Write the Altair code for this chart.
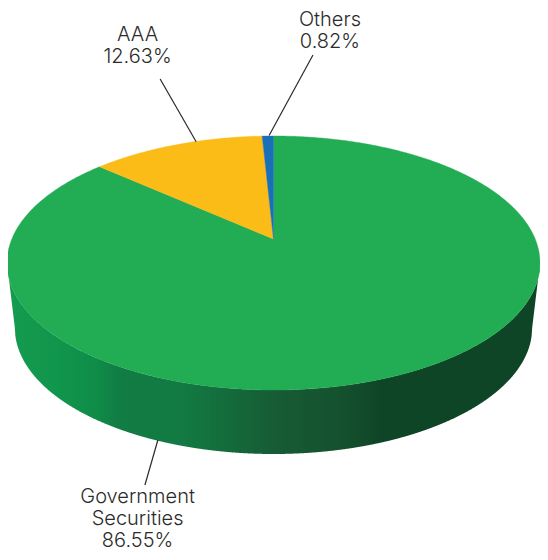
import math
import altair as alt
import pandas as pd

# ---- chart values ----
names = ["Government Securities", "AAA", "Others"]
shares = [86.55, 12.63, 0.82]
slice_colors = ["#22ac53", "#fbbc17", "#1a70b7"]
label_lines = [["Government", "Securities", "86.55%"], ["AAA", "12.63%"], ["Others", "0.82%"]]
label_x = [138, 138, 334]
label_y = [497, 35, 20]
leader_from = [(158.7, 440), (197.7, 141.7), (272, 135.5)]
leader_to = [(145.5, 485), (161, 79), (316.7, 55)]
wall_stops = [(0.0, "#169c50"), (0.1, "#10954c"), (0.17, "#0f8c48"), (0.21, "#117c43"),
              (0.33, "#127a42"), (0.5, "#165c35"), (0.62, "#15522f"), (0.7, "#0f4527"),
              (1.0, "#0e4526")]

# ---- perspective geometry of the disc (pixel frame of the page) ----
APEX_X, APEX_Y = 276.5, 239
K, C, A = 0.189, 122.5, 266.6
TOP_CY, TOP_RX, TOP_RY = 263, 271.5, 127
BOT_CY, BOT_RX, BOT_RY = 328, 263.5, 126
LEFT, RIGHT = APEX_X - TOP_RX, APEX_X + TOP_RX

def project(theta):
    X, Y = math.sin(theta), math.cos(theta)
    d = 1 + K * Y
    return APEX_X + A * X / d, APEX_Y - C * Y / d

xs = alt.X("x:Q", scale=alt.Scale(domain=[6, 548]), axis=None)
ys = alt.Y("y:Q", scale=alt.Scale(domain=[552, 8]), axis=None)

# side wall
rows = []
for i in range(int(LEFT * 2), int(RIGHT * 2) + 1):
    x = i / 2
    u = max(0, 1 - ((x - APEX_X) / TOP_RX) ** 2)
    y_top = TOP_CY + TOP_RY * math.sqrt(u)
    if abs(x - APEX_X) <= BOT_RX:
        y_bot = BOT_CY + BOT_RY * math.sqrt(max(0, 1 - ((x - APEX_X) / BOT_RX) ** 2))
    else:
        f = (abs(x - APEX_X) - BOT_RX) / (TOP_RX - BOT_RX)
        y_bot = BOT_CY + (TOP_CY - BOT_CY) * f
    rows.append({"x": x, "y": y_top, "y2": y_bot})
wall = alt.Chart(pd.DataFrame(rows)).mark_area(
    color=alt.Gradient(gradient="linear", x1=0, x2=1, y1=0, y2=0,
                       stops=[alt.GradientStop(offset=o, color=c) for o, c in wall_stops])
).encode(x=xs, y=ys, y2="y2:Q")

# top slices
layers = [wall]
start = 0.0
for name, share, col in zip(names, shares, slice_colors):
    sweep = share / 100 * 2 * math.pi
    n = max(4, int(share * 6))
    pts = [(APEX_X, APEX_Y)] + [project(start + sweep * j / n) for j in range(n + 1)] + [(APEX_X, APEX_Y)]
    df = pd.DataFrame({"x": [p[0] for p in pts], "y": [p[1] for p in pts], "i": range(len(pts))})
    layers.append(alt.Chart(df).mark_line(fill=col, stroke=col, strokeWidth=0.4).encode(
        x=xs, y=ys, order="i:Q"))
    start += sweep

# leaders and labels
for a, b in zip(leader_from, leader_to):
    df = pd.DataFrame({"x": [a[0], b[0]], "y": [a[1], b[1]], "i": [0, 1]})
    layers.append(alt.Chart(df).mark_line(color="#2a2a2a", strokeWidth=1.2).encode(x=xs, y=ys, order="i:Q"))

trows = []
for lines, lx, ly in zip(label_lines, label_x, label_y):
    for j, t in enumerate(lines):
        trows.append({"x": lx, "y": ly + j * 22, "t": t})
layers.append(alt.Chart(pd.DataFrame(trows)).mark_text(
    font="Inter", fontSize=20, fontWeight=300, color="#2b2b2b", align="center", baseline="middle"
).encode(x=xs, y=ys, text="t:N"))

chart = alt.layer(*layers).properties(
    width=532, height=544, padding=0,
    autosize=alt.AutoSizeParams(type="none"),
).configure_view(stroke=None)
chart.save("out.html", embed_options={"renderer": "svg", "actions": False})
